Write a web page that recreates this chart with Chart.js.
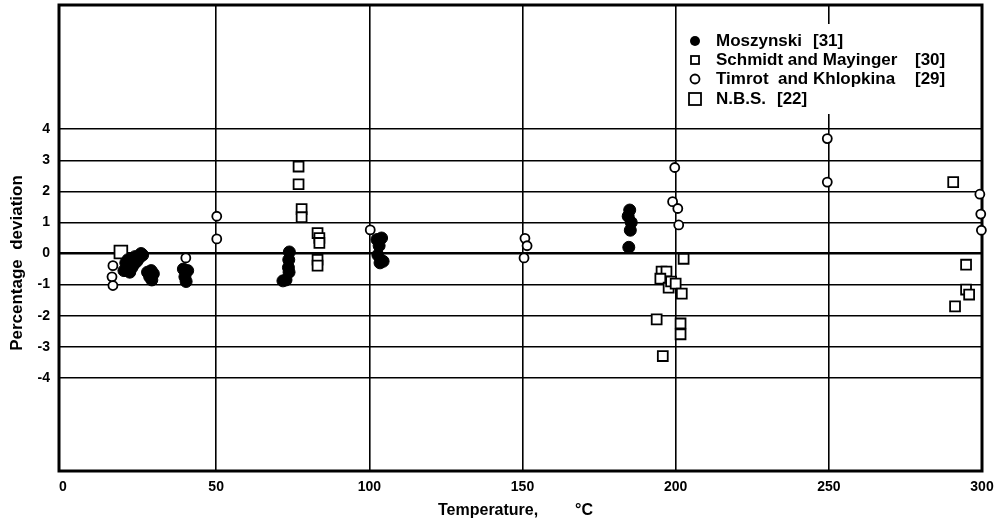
<!DOCTYPE html>
<html>
<head>
<meta charset="utf-8">
<script src="https://cdn.jsdelivr.net/npm/chart.js@4.4.0/dist/chart.umd.min.js"></script>
<style>
  body { margin: 0; background: #fff; }
  #wrap { width: 1000px; height: 524px; }
</style>
</head>
<body>
<div id="wrap"><canvas id="deviationChart"></canvas></div>
<script>
// datos (temperatura en °C, desviacion en %)
const moszynskiX = [19.9, 20.5, 21.2, 21.8, 22.5, 23.1, 23.5, 24.1, 24.8, 25.5, 26.0,
  27.6, 28.3, 29.0, 29.5, 28.8,
  39.3, 40.1, 40.7, 39.8, 40.2,
  73.9, 73.7, 73.6, 73.8, 72.8, 71.8,
  102.5, 104.0, 103.2, 102.8, 103.5, 104.5,
  185.0, 184.5, 185.5, 185.2, 184.7];
const moszynskiY = [-0.55, -0.3, -0.2, -0.6, -0.45, -0.35, -0.1, -0.25, -0.15, 0.0, -0.05,
  -0.6, -0.75, -0.85, -0.65, -0.55,
  -0.5, -0.6, -0.55, -0.75, -0.9,
  0.05, -0.2, -0.45, -0.6, -0.85, -0.88,
  0.45, 0.5, 0.25, -0.05, -0.3, -0.25,
  1.4, 1.2, 1.0, 0.75, 0.2];

const schmidtX = [76.9, 76.9, 77.9, 77.9, 83.1, 83.7, 83.7, 83.1, 83.1,
  193.8, 195.4, 197.0, 195.0, 197.7, 198.5, 200.0, 202.0, 202.6, 201.6, 201.6, 195.8,
  290.6, 294.8, 294.8, 295.8, 291.2];
const schmidtY = [2.8, 2.23, 1.43, 1.17, 0.66, 0.5, 0.34, -0.2, -0.39,
  -2.12, -0.58, -0.58, -0.81, -1.1, -0.9, -0.97, -1.29, -0.17, -2.25, -2.6, -3.3,
  2.3, -0.36, -1.16, -1.32, -1.7];

const timrotX = [16.3, 16.0, 16.3, 40.1, 50.2, 50.2, 100.3, 150.8, 151.5, 150.5,
  199.7, 199.0, 200.7, 201.0, 249.5, 249.5, 299.3, 299.6, 299.8];
const timrotY = [-0.39, -0.75, -1.03, -0.14, 1.2, 0.47, 0.76, 0.49, 0.25, -0.14,
  2.77, 1.67, 1.45, 0.92, 3.7, 2.3, 1.91, 1.27, 0.75];

const nbsX = [18.9];
const nbsY = [0.05];

const xTicks = [0, 50, 100, 150, 200, 250, 300];
const yTicks = [-4, -3, -2, -1, 0, 1, 2, 3, 4];

const legendNames = ['Moszynski', 'Schmidt and Mayinger', 'Timrot  and Khlopkina', 'N.B.S.'];
const legendRefs = ['[31]', '[30]', '[29]', '[22]'];

const xTitle = 'Temperature,';
const xUnit = '°C';
const yTitle = 'Percentage  deviation';

const fontFamily = '"Liberation Sans", Arial, sans-serif';

const toPoints = (xs, ys) => xs.map((x, i) => ({ x: x, y: ys[i] }));

// marco, cuadro de leyenda y titulos de ejes
const extras = {
  id: 'extras',
  beforeDatasetsDraw(chart) {
    const { ctx, chartArea: a } = chart;
    ctx.save();
    ctx.strokeStyle = '#000';
    ctx.lineWidth = 3;
    ctx.strokeRect(a.left, a.top, a.right - a.left, a.bottom - a.top);

    // la leyenda tapa la linea de 250
    ctx.fillStyle = '#fff';
    ctx.fillRect(688, 24, 262, 90);

    const rows = [41, 60, 79, 99];
    const refX = [813, 915, 915, 777];
    ctx.fillStyle = '#000';
    ctx.lineWidth = 1.8;
    ctx.font = 'bold 17px ' + fontFamily;
    ctx.textBaseline = 'middle';
    ctx.textAlign = 'left';
    rows.forEach((y, i) => {
      ctx.beginPath();
      if (i === 0) {
        ctx.arc(695, y, 5, 0, Math.PI * 2);
        ctx.fill();
      } else if (i === 1) {
        ctx.strokeRect(691, y - 4, 8, 8);
      } else if (i === 2) {
        ctx.arc(695, y, 4.5, 0, Math.PI * 2);
        ctx.stroke();
      } else {
        ctx.strokeRect(689, y - 6, 12, 12);
      }
      ctx.fillText(legendNames[i], 716, y);
      ctx.fillText(legendRefs[i], refX[i], y);
    });

    // titulos
    ctx.font = 'bold 16px ' + fontFamily;
    ctx.textAlign = 'left';
    ctx.fillText(xTitle, 438, 511);
    ctx.fillText(xUnit, 575, 511);

    ctx.translate(17, 263);
    ctx.rotate(-Math.PI / 2);
    ctx.textAlign = 'center';
    ctx.font = 'bold 17px ' + fontFamily;
    ctx.fillText(yTitle, 0, 0);
    ctx.restore();
  }
};

const ctx = document.querySelector('#deviationChart').getContext('2d');
const myChart = new Chart(ctx, {
  type: 'scatter',
  data: {
    datasets: [
      {
        label: 'Moszynski [31]',
        data: toPoints(moszynskiX, moszynskiY),
        pointStyle: 'circle',
        pointRadius: 6,
        backgroundColor: '#000',
        borderColor: '#000',
        borderWidth: 1,
        clip: false
      },
      {
        label: 'Schmidt and Mayinger [30]',
        data: toPoints(schmidtX, schmidtY),
        pointStyle: 'rect',
        pointRadius: 7,
        backgroundColor: '#fff',
        borderColor: '#000',
        borderWidth: 1.8,
        clip: false
      },
      {
        label: 'Timrot and Khlopkina [29]',
        data: toPoints(timrotX, timrotY),
        pointStyle: 'circle',
        pointRadius: 4.5,
        backgroundColor: '#fff',
        borderColor: '#000',
        borderWidth: 1.8,
        clip: false
      },
      {
        label: 'N.B.S. [22]',
        data: toPoints(nbsX, nbsY),
        pointStyle: 'rect',
        pointRadius: 9,
        backgroundColor: '#fff',
        borderColor: '#000',
        borderWidth: 1.8,
        clip: false
      }
    ]
  },
  options: {
    responsive: true,
    maintainAspectRatio: false,
    animation: false,
    layout: { autoPadding: false, padding: { top: 5, right: 18, bottom: 0, left: 0 } },
    plugins: {
      legend: { display: false },
      tooltip: { enabled: false }
    },
    scales: {
      x: {
        type: 'linear',
        min: -1.3,
        max: 300,
        afterBuildTicks: s => { s.ticks = xTicks.map(v => ({ value: v })); },
        afterFit: s => {
          s.height = 53;
          s.paddingLeft = 0;
          s.paddingRight = 0;
        },
        border: { display: false },
        grid: {
          color: '#000',
          lineWidth: c => (c.tick && c.tick.value > 0 && c.tick.value < 300) ? 1.6 : 0,
          drawTicks: false
        },
        ticks: {
          color: '#000',
          padding: 8,
          autoSkip: false,
          maxRotation: 0,
          font: { family: fontFamily, size: 14, weight: 'bold' }
        }
      },
      y: {
        type: 'linear',
        min: -7,
        max: 8,
        afterBuildTicks: s => { s.ticks = yTicks.map(v => ({ value: v })); },
        afterFit: s => {
          s.width = 59;
          s.paddingTop = 0;
          s.paddingBottom = 0;
        },
        border: { display: false },
        grid: {
          color: '#000',
          lineWidth: c => (c.tick && c.tick.value === 0) ? 2.6 : 1.6,
          drawTicks: false
        },
        ticks: {
          color: '#000',
          padding: 9,
          autoSkip: false,
          font: { family: fontFamily, size: 14, weight: 'bold' }
        }
      }
    }
  },
  plugins: [extras]
});
</script>
</body>
</html>
